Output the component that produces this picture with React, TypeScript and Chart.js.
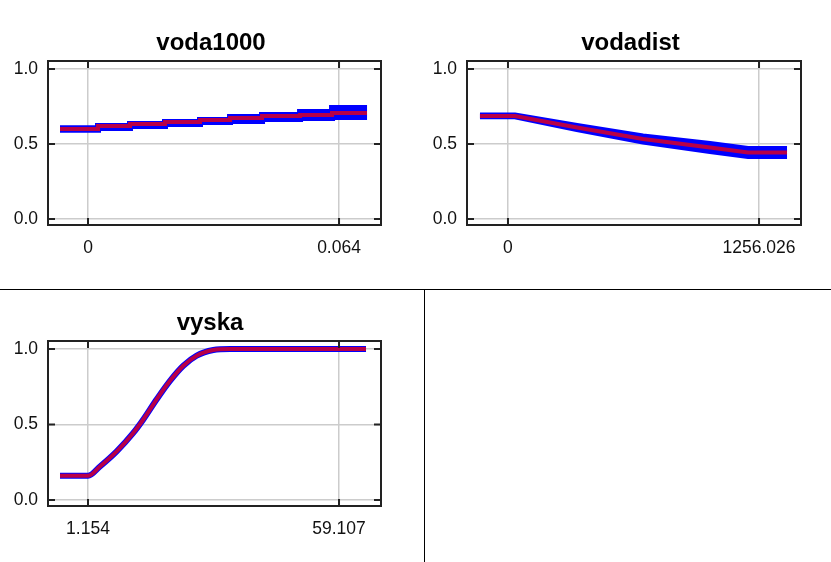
import React, { useEffect, useRef } from "react";
import { Chart, registerables } from "chart.js";

Chart.register(...registerables);

// shared y axis
const yTickValues = [0, 0.5, 1.0];
const yTickLabels = ["0.0", "0.5", "1.0"];

// panel 1: voda1000
const vodaTitle = "voda1000";
const vodaXTickValues = [0, 0.064];
const vodaXTickLabels = ["0", "0.064"];
const vodaX = [-0.00714, 0.00255, 0.01071, 0.01963, 0.02856, 0.03621, 0.04437, 0.05406, 0.06222, 0.07114];
const vodaMean = [0.6, 0.62, 0.633, 0.647, 0.66, 0.673, 0.687, 0.693, 0.707, 0.707];
const vodaUpper = [0.605, 0.62, 0.633, 0.647, 0.66, 0.68, 0.693, 0.713, 0.74, 0.74];
const vodaLower = [0.595, 0.607, 0.62, 0.633, 0.647, 0.653, 0.667, 0.673, 0.68, 0.68];

// panel 2: vodadist
const distTitle = "vodadist";
const distXTickValues = [0, 1256.026];
const distXTickLabels = ["0", "1256.026"];
const distX = [-140.1, 35.0, 345.3, 675.5, 1010.8, 1201.0, 1396.1];
const distMean = [0.687, 0.687, 0.61, 0.533, 0.477, 0.443, 0.443];
const distUpper = [0.689, 0.689, 0.62, 0.55, 0.5, 0.467, 0.467];
const distLower = [0.685, 0.685, 0.6, 0.517, 0.453, 0.42, 0.42];

// panel 3: vyska
const vyskaTitle = "vyska";
const vyskaXTickValues = [1.154, 59.107];
const vyskaXTickLabels = ["1.154", "59.107"];
const vyskaX = [-5.31, 1.154, 3.92, 7.78, 11.61, 13.92, 17.02, 20.09, 23.16, 26.25, 30.09, 33.94, 65.34];
const vyskaMean = [0.16, 0.16, 0.222, 0.322, 0.444, 0.533, 0.667, 0.789, 0.889, 0.956, 0.993, 1.0, 1.0];

const FONT = "'Liberation Sans', Arial, sans-serif";
const BLUE = "#0000ff";
const RED = "rgba(255,0,0,0.72)";

const framePlugin = {
  id: "frameTicks",
  afterDraw(chart: any, _args: any, opts: any) {
    const { ctx, chartArea: a, scales } = chart;
    ctx.save();
    ctx.strokeStyle = "#222";
    ctx.lineWidth = 2;
    ctx.strokeRect(a.left, a.top, a.right - a.left, a.bottom - a.top);
    const L = 7;
    ctx.beginPath();
    scales.x.ticks.forEach((t: any) => {
      const px = scales.x.getPixelForValue(t.value);
      ctx.moveTo(px, a.top);
      ctx.lineTo(px, a.top + L);
      ctx.moveTo(px, a.bottom);
      ctx.lineTo(px, a.bottom - L);
    });
    scales.y.ticks.forEach((t: any) => {
      const py = scales.y.getPixelForValue(t.value);
      ctx.moveTo(a.left, py);
      ctx.lineTo(a.left + L, py);
      ctx.moveTo(a.right, py);
      ctx.lineTo(a.right - L, py);
    });
    ctx.stroke();
    // panel title
    if (opts && opts.text) {
      ctx.fillStyle = "#000";
      ctx.font = "bold 24px " + FONT;
      ctx.textAlign = "center";
      ctx.textBaseline = "alphabetic";
      ctx.fillText(opts.text, opts.x, opts.y);
    }
    ctx.restore();
  },
};

type Rect = { left: number; top: number; width: number; height: number };
type Area = { left: number; top: number; right: number; bottom: number };

type PanelProps = {
  canvas: Rect;
  area: Area;
  title: string;
  titleBaseline: number;
  titleCenter: number;
  xMin: number;
  xMax: number;
  xTickValues: number[];
  xTickLabels: string[];
  datasets: any[];
};

function Panel(p: PanelProps) {
  const ref = useRef<HTMLCanvasElement | null>(null);
  useEffect(() => {
    if (!ref.current) return;
    const padT = p.area.top - p.canvas.top;
    const yW = p.area.left - p.canvas.left;
    const xH = p.canvas.top + p.canvas.height - p.area.bottom;
    const padR = p.canvas.left + p.canvas.width - p.area.right;
    const chart = new Chart(ref.current, {
      type: "line",
      data: { datasets: p.datasets },
      options: {
        responsive: false,
        animation: false,
        layout: { padding: { left: 0, right: padR, top: padT, bottom: 0 } },
        plugins: {
          legend: { display: false },
          tooltip: { enabled: false },
          title: { display: false },
          frameTicks: {
            text: p.title,
            x: p.titleCenter - p.canvas.left,
            y: p.titleBaseline - p.canvas.top,
          },
        },
        elements: { point: { radius: 0 } },
        scales: {
          x: {
            type: "linear",
            min: p.xMin,
            max: p.xMax,
            border: { display: false },
            grid: { color: "#cccccc", lineWidth: 1.5, drawTicks: false },
            afterBuildTicks: (s: any) => {
              s.ticks = p.xTickValues.map((v) => ({ value: v }));
            },
            afterFit: (s: any) => {
              s.height = xH;
            },
            ticks: {
              autoSkip: false,
              maxRotation: 0,
              padding: 12.5,
              color: "#111",
              font: { family: FONT, size: 17.5 },
              callback: (_v: any, i: number) => p.xTickLabels[i],
            },
          },
          y: {
            type: "linear",
            min: -0.04,
            max: 1.053,
            border: { display: false },
            grid: { color: "#cccccc", lineWidth: 1.5, drawTicks: false },
            afterBuildTicks: (s: any) => {
              s.ticks = yTickValues.map((v) => ({ value: v }));
            },
            afterFit: (s: any) => {
              s.width = yW;
            },
            ticks: {
              autoSkip: false,
              padding: 10,
              color: "#111",
              font: { family: FONT, size: 17.5 },
              callback: (_v: any, i: number) => yTickLabels[i],
            },
          },
        },
      },
      plugins: [framePlugin],
    } as any);
    return () => chart.destroy();
  }, []);
  return (
    <canvas
      ref={ref}
      width={p.canvas.width}
      height={p.canvas.height}
      style={{
        position: "absolute",
        left: p.canvas.left,
        top: p.canvas.top,
        width: p.canvas.width,
        height: p.canvas.height,
      }}
    />
  );
}

const pts = (xs: number[], ys: number[]) => xs.map((x, i) => ({ x, y: ys[i] }));

function bandSets(xs: number[], up: number[], lo: number[], mean: number[], stepped: boolean) {
  return [
    { data: pts(xs, up), borderColor: BLUE, borderWidth: 6, stepped, fill: false, pointRadius: 0, order: 3 },
    { data: pts(xs, lo), borderColor: BLUE, borderWidth: 6, stepped, fill: "-1", backgroundColor: BLUE, pointRadius: 0, order: 2 },
    { data: pts(xs, mean), borderColor: RED, borderWidth: 4, stepped, fill: false, pointRadius: 0, order: 1 },
  ];
}

export default function App() {
  return (
    <div
      style={{
        position: "fixed",
        left: 0,
        top: 0,
        width: 831,
        height: 562,
        background: "#fff",
        overflow: "hidden",
      }}
    >
      <Panel
        canvas={{ left: 0, top: 0, width: 415, height: 289 }}
        area={{ left: 48, top: 61, right: 381, bottom: 225 }}
        title={vodaTitle}
        titleBaseline={50}
        titleCenter={211}
        xMin={-0.0102}
        xMax={0.0747}
        xTickValues={vodaXTickValues}
        xTickLabels={vodaXTickLabels}
        datasets={bandSets(vodaX, vodaUpper, vodaLower, vodaMean, true)}
      />
      <Panel
        canvas={{ left: 419, top: 0, width: 412, height: 289 }}
        area={{ left: 467, top: 61, right: 801, bottom: 225 }}
        title={distTitle}
        titleBaseline={50}
        titleCenter={630.5}
        xMin={-205}
        xMax={1466}
        xTickValues={distXTickValues}
        xTickLabels={distXTickLabels}
        datasets={bandSets(distX, distUpper, distLower, distMean, false)}
      />
      <Panel
        canvas={{ left: 0, top: 290, width: 415, height: 272 }}
        area={{ left: 48, top: 341, right: 381, bottom: 506 }}
        title={vyskaTitle}
        titleBaseline={330}
        titleCenter={210}
        xMin={-8.08}
        xMax={68.8}
        xTickValues={vyskaXTickValues}
        xTickLabels={vyskaXTickLabels}
        datasets={[
          { data: pts(vyskaX, vyskaMean), borderColor: RED, borderWidth: 4, cubicInterpolationMode: "monotone", fill: false, pointRadius: 0, order: 1 },
          { data: pts(vyskaX, vyskaMean), borderColor: BLUE, borderWidth: 6, cubicInterpolationMode: "monotone", fill: false, pointRadius: 0, order: 2 },
        ]}
      />
      <div style={{ position: "absolute", left: 0, top: 289, width: 831, height: 1, background: "#000" }} />
      <div style={{ position: "absolute", left: 424, top: 289, width: 1, height: 273, background: "#000" }} />
    </div>
  );
}
